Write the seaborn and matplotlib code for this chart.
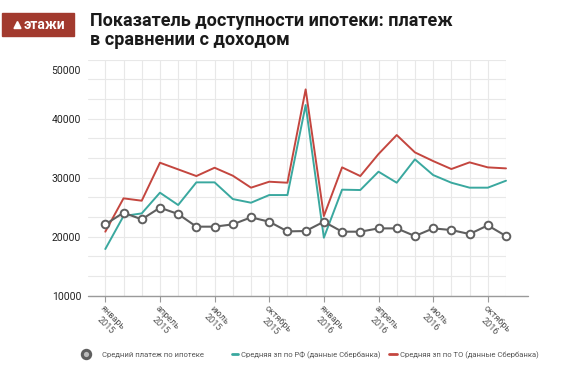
import numpy as np
import pandas as pd
import matplotlib
matplotlib.use('Agg')
import matplotlib.pyplot as plt
import matplotlib.transforms as mtransforms
import seaborn as sns
from matplotlib.lines import Line2D
from matplotlib.patches import Rectangle, Polygon
from matplotlib.ticker import MultipleLocator, FixedLocator

# ---- data (Jan 2015 .. Nov 2016) ----
months = ['январь\n2015', 'февраль\n2015', 'март\n2015', 'апрель\n2015', 'май\n2015', 'июнь\n2015',
          'июль\n2015', 'август\n2015', 'сентябрь\n2015', 'октябрь\n2015', 'ноябрь\n2015', 'декабрь\n2015',
          'январь\n2016', 'февраль\n2016', 'март\n2016', 'апрель\n2016', 'май\n2016', 'июнь\n2016',
          'июль\n2016', 'август\n2016', 'сентябрь\n2016', 'октябрь\n2016', 'ноябрь\n2016']
payment = [22090, 24070, 22940, 24920, 23840, 21700, 21700, 22090, 23280, 22540, 20900, 20960,
           22540, 20850, 20850, 21410, 21410, 20110, 21410, 21130, 20450, 21920, 20110]
salary_rf = [17910, 23500, 23950, 27460, 25370, 29210, 29210, 26380, 25760, 27060, 27060, 42320,
             19830, 27970, 27910, 31020, 29150, 33110, 30450, 29150, 28310, 28310, 29490]
salary_to = [20850, 26500, 26100, 32540, 31410, 30280, 31690, 30340, 28310, 29320, 29150, 44970,
             23500, 31750, 30280, 34010, 37230, 34290, 32820, 31470, 32600, 31750, 31580]
labels = ['Средний платеж по ипотеке',
          'Средняя зп по РФ (данные Сбербанка)',
          'Средняя зп по ТО (данные Сбербанка)']
yticks = [10000, 20000, 30000, 40000, 50000]

c_grey = '#5f5f5f'
c_teal = '#3aa89f'
c_red = '#c4463f'
c_logo = '#a23a2e'

sns.set_style('white')
plt.rcParams['font.family'] = ['Roboto', 'DejaVu Sans']

fig = plt.figure(figsize=(5.87, 3.72), dpi=100)
ax = fig.add_axes([88 / 587, 1 - 295.7 / 372, (506 - 88) / 587, (295.7 - 59.7) / 372])

idx = np.arange(len(months))
sns.lineplot(x=idx, y=salary_rf, color=c_teal, lw=1.4, ax=ax, clip_on=False)
sns.lineplot(x=idx, y=salary_to, color=c_red, lw=1.4, ax=ax, clip_on=False)
sns.lineplot(x=idx, y=payment, color=c_grey, lw=1.5, marker='o', markersize=5.5,
             markerfacecolor='white', markeredgecolor=c_grey, markeredgewidth=1.4,
             ax=ax, clip_on=False)

ax.set_xlim(-0.95, len(months) - 1)
ax.set_ylim(10000, 50000)

# grid
ax.xaxis.set_minor_locator(FixedLocator(np.arange(-1, len(months))))
ax.yaxis.set_minor_locator(MultipleLocator(10000 / 3))
ax.grid(which='both', color='#e8e8e8', lw=0.8)
ax.set_axisbelow(True)

for s in ['top', 'right', 'left', 'bottom']:
    ax.spines[s].set_visible(False)
# bottom axis line, running a bit past the last gridline
ax.plot([-0.95, 23.2], [0, 0], transform=ax.get_xaxis_transform(), color='#9a9a9a',
        lw=1.0, clip_on=False)

ax.set_xticks(idx[::3])
ax.set_xticklabels([months[i] for i in idx[::3]], rotation=-45, ha='left', va='top',
                   rotation_mode='anchor', fontsize=6.5, color='#555555', multialignment='center')
ax.tick_params(axis='x', which='major', length=4, width=0.8, color='#9a9a9a', pad=2, bottom=True)
ax.tick_params(axis='x', which='minor', length=0)
ax.tick_params(axis='y', which='both', length=0, pad=5)

ax.set_yticks(yticks)
ax.set_yticklabels([str(v) for v in yticks], fontsize=7.5, color='#222222')
top_lbl = ax.get_yticklabels()[-1]
top_lbl.set_transform(top_lbl.get_transform() +
                      mtransforms.ScaledTranslation(0, -10 / 100, fig.dpi_scale_trans))
ax.set_xlabel('')
ax.set_ylabel('')

# title and logo
fig.text(90 / 587, 1 - 12 / 372, 'Показатель доступности ипотеки: платеж\nв сравнении с доходом',
         fontsize=13, fontweight='bold', color='#1a1a1a', va='top', ha='left', linespacing=1.1)
fig.patches.append(Rectangle((2 / 587, 1 - 36 / 372), 72 / 587, 23 / 372,
                             transform=fig.transFigure, color=c_logo, zorder=1))
fig.patches.append(Polygon([(14 / 587, 1 - 28.5 / 372), (17.5 / 587, 1 - 21.5 / 372),
                            (21 / 587, 1 - 28.5 / 372)], closed=True,
                           transform=fig.transFigure, color='white', zorder=2))
fig.text(24 / 587, 1 - 25 / 372, 'этажи', fontsize=10, fontweight='bold', color='white',
         va='center', ha='left', zorder=3)

# legend: three separate entries placed like the reference
handles = [Line2D([], [], color=c_grey, marker='o', ls='none', markersize=6,
                  markerfacecolor='#bbbbbb', markeredgewidth=2.2),
           Line2D([], [], color=c_teal, lw=2),
           Line2D([], [], color=c_red, lw=2)]
spots = [(82, 1.0, 1.6), (232, 0.8, 0.4), (389, 1.0, 0.5)]
for h, lab, (x0, hl, tp) in zip(handles, labels, spots):
    fig.legend([h], [lab], loc='center left', bbox_to_anchor=(x0 / 587, 1 - 355 / 372),
               frameon=False, fontsize=5.5, labelcolor='#555555', handlelength=hl,
               handletextpad=tp, borderpad=0, borderaxespad=0)

fig.savefig('out.png', dpi=100)
